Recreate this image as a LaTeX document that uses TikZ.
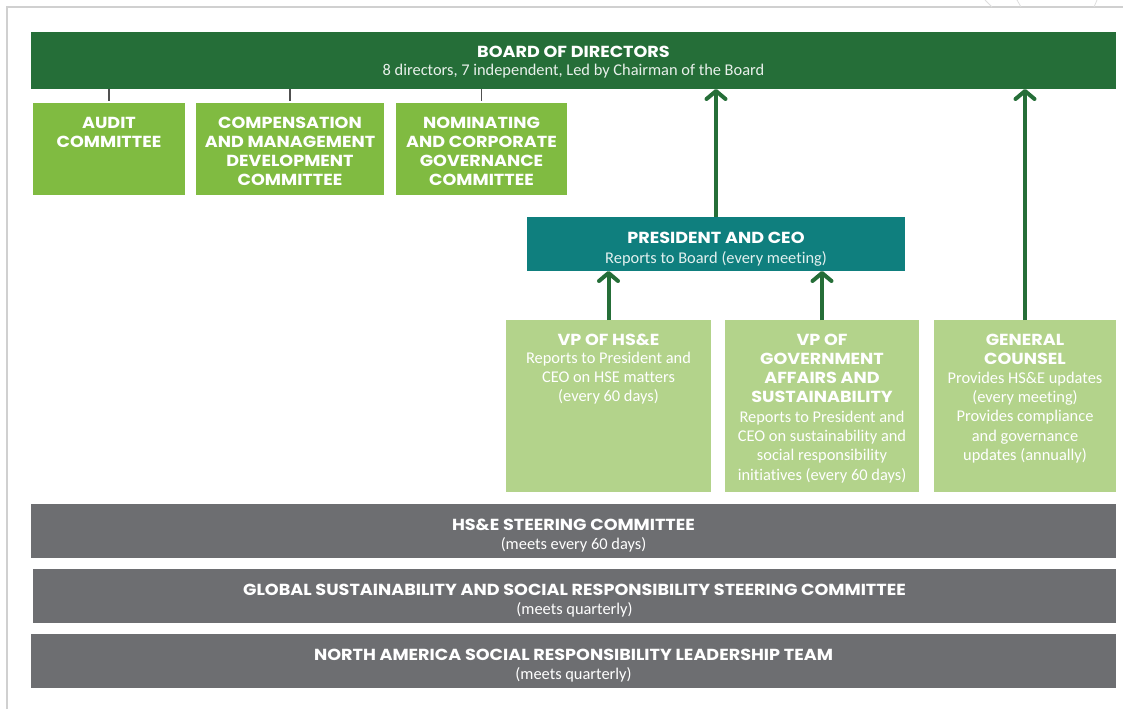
\documentclass[tikz,border=0pt]{standalone}
\usepackage{fontspec}
\setmainfont{Carlito}[Ligatures=NoCommon]
\newfontfamily\hfont{Poppins}[FakeStretch=1.1]
\usetikzlibrary{arrows.meta}
\definecolor{boardgreen}{HTML}{256E38}
\definecolor{comgreen}{HTML}{80BB41}
\definecolor{teal}{HTML}{0F7F7E}
\definecolor{palegreen}{HTML}{B3D38B}
\definecolor{steergray}{HTML}{6D6E71}
\definecolor{framegray}{HTML}{D0D0D0}
\definecolor{tickgray}{HTML}{505050}
\begin{document}
\begin{tikzpicture}[x=1pt,y=-1pt,
  box/.style={draw=none,inner sep=0pt,outer sep=0pt,anchor=north west},
  htext/.style={font=\hfont\bfseries\fontsize{16}{19}\selectfont,text=white,align=center,inner sep=0pt,anchor=north},
  btext/.style={font=\fontsize{16.4}{19.2}\selectfont,text=white,align=center,inner sep=0pt,anchor=north},
  arr/.style={draw=boardgreen,line width=4pt,-{Straight Barb[round,length=8pt,width=19pt]}},
  tick/.style={draw=tickgray,line width=1.5pt}
]
\useasboundingbox (0,0) rectangle (1123,709);
% frame
\draw[framegray,line width=1.5pt] (7,709) -- (7,7) -- (1123,7);
\draw[framegray!70,line width=0.8pt] (985,0) -- (992,7) (1017,0) -- (1021,7) (1097,0) -- (1094,7);
% boxes
\node[box,fill=boardgreen,minimum width=1085pt,minimum height=57pt] (board) at (31,32) {};
\node[box,fill=comgreen,minimum width=152pt,minimum height=92pt] (audit) at (33,103) {};
\node[box,fill=comgreen,minimum width=188pt,minimum height=92pt] (comp) at (196,103) {};
\node[box,fill=comgreen,minimum width=171pt,minimum height=92pt] (nom) at (396,103) {};
\node[box,fill=teal,minimum width=378pt,minimum height=54pt] (pres) at (527,217) {};
\node[box,fill=palegreen,minimum width=205pt,minimum height=172pt] (vphse) at (506,320) {};
\node[box,fill=palegreen,minimum width=194pt,minimum height=172pt] (vpgov) at (725,320) {};
\node[box,fill=palegreen,minimum width=182pt,minimum height=172pt] (gc) at (934,320) {};
\node[box,fill=steergray,minimum width=1085pt,minimum height=54pt] (hse) at (31,504) {};
\node[box,fill=steergray,minimum width=1083pt,minimum height=54pt] (gss) at (33,569) {};
\node[box,fill=steergray,minimum width=1085pt,minimum height=54pt] (na) at (31,634) {};
% texts
\node[htext] (boardT) at ([yshift=-14pt]board.north) {BOARD OF DIRECTORS};
\node[btext,text=white!90!boardgreen] (boardS) at ([yshift=-32pt]board.north) {8 directors, 7 independent, Led by Chairman of the Board};
\node[htext] (auditT) at ([yshift=-14pt]audit.north) {AUDIT\\COMMITTEE};
\node[htext] (compT) at ([yshift=-14pt]comp.north) {COMPENSATION\\AND MANAGEMENT\\DEVELOPMENT\\COMMITTEE};
\node[htext] (nomT) at ([yshift=-14pt]nom.north) {NOMINATING\\AND CORPORATE\\GOVERNANCE\\COMMITTEE};
\node[htext] (presT) at ([yshift=-15pt]pres.north) {PRESIDENT AND CEO};
\node[btext,text=white!88!teal] (presS) at ([yshift=-34pt]pres.north) {Reports to Board (every meeting)};
\node[htext] (vphseT) at ([yshift=-14pt]vphse.north) {VP OF HS\&E};
\node[btext] (vphseS) at ([yshift=-32pt]vphse.north) {Reports to President and\\CEO on HSE matters\\(every 60 days)};
\node[htext] (vpgovT) at ([yshift=-14pt]vpgov.north) {VP OF\\GOVERNMENT\\AFFAIRS AND\\SUSTAINABILITY};
\node[btext] (vpgovS) at ([yshift=-91pt]vpgov.north) {Reports to President and\\CEO on sustainability and\\social responsibility\\initiatives (every 60 days)};
\node[htext] (gcT) at ([yshift=-14pt]gc.north) {GENERAL\\COUNSEL};
\node[btext] (gcS) at ([yshift=-52pt]gc.north) {Provides HS\&E updates\\(every meeting)\\Provides compliance\\and governance\\updates (annually)};
\node[htext] (hseT) at ([yshift=-15pt]hse.north) {HS\&E STEERING COMMITTEE};
\node[btext] (hseS) at ([yshift=-33pt]hse.north) {(meets every 60 days)};
\node[htext] (gssT) at ([yshift=-15pt]gss.north) {GLOBAL SUSTAINABILITY AND SOCIAL RESPONSIBILITY STEERING COMMITTEE};
\node[btext] (gssS) at ([yshift=-33pt]gss.north) {(meets quarterly)};
\node[htext] (naT) at ([yshift=-15pt]na.north) {NORTH AMERICA SOCIAL RESPONSIBILITY LEADERSHIP TEAM};
\node[btext] (naS) at ([yshift=-33pt]na.north) {(meets quarterly)};
% ticks
\draw[tick] (board.south -| audit.north) -- ([yshift=2pt]audit.north);
\draw[tick] (board.south -| comp.north) -- ([yshift=2pt]comp.north);
\draw[tick] (board.south -| nom.north) -- ([yshift=2pt]nom.north);
% arrows
\draw[arr] (pres.north) -- (pres.north |- board.south);
\draw[arr] (vphse.north) -- (vphse.north |- pres.south);
\draw[arr] (vpgov.north) -- (vpgov.north |- pres.south);
\draw[arr] (gc.north) -- (gc.north |- board.south);
\end{tikzpicture}
\end{document}
